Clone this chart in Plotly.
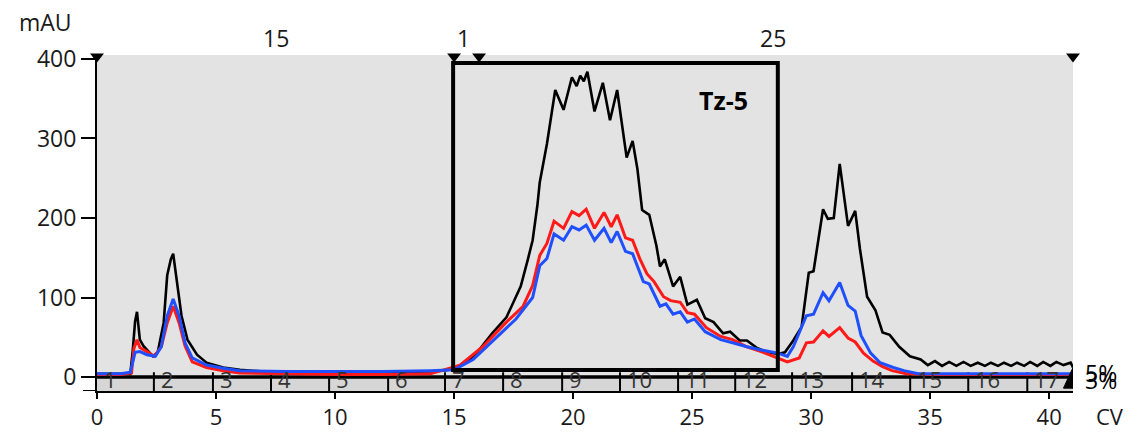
import plotly.graph_objects as go

# ---------------- data ----------------
black_x = [0, 0.5, 1.0, 1.4, 1.5, 1.6, 1.68, 1.8, 1.95, 2.15, 2.35, 2.55, 2.8, 2.95, 3.1, 3.2, 3.35, 3.55, 3.8, 4.2,
           4.6, 5.3, 6.0, 7, 8, 9, 10, 11, 12, 13, 14, 14.5, 15.0, 15.5, 16.0, 16.6, 17.2, 17.45, 17.8, 18.1,
           18.3, 18.5, 18.6, 18.9, 19.25, 19.6, 19.95, 20.15, 20.3, 20.45, 20.6, 20.9, 21.25, 21.55, 21.85, 22.25,
           22.5, 22.7, 22.9, 23.2, 23.5, 23.65, 23.85, 24.2, 24.5, 24.8, 25.2, 25.55, 25.9, 26.3, 26.6, 27.0,
           27.3, 27.7, 28.15, 28.6, 28.9, 29.25, 29.6, 29.9, 30.1, 30.5, 30.7, 30.95, 31.2, 31.55, 31.85, 32.05,
           32.35, 32.7, 33.0, 33.3, 33.7, 34.15, 34.6, 34.9, 35.2, 35.5, 35.8, 36.1, 36.4, 36.7, 37.0, 37.3,
           37.55, 37.85, 38.1, 38.4, 38.65, 38.95, 39.2, 39.5, 39.75, 40.05, 40.3, 40.6, 40.9, 41.0]
black_y = [4, 4, 4, 4, 33, 70, 82, 47, 39, 32, 26, 31, 68, 128, 148, 155, 119, 77, 47, 28,
           18, 12, 9, 7, 6, 6, 6, 6, 6, 6, 7, 8, 10, 18, 32, 55, 75, 91, 114, 148,
           172, 216, 245, 293, 361, 336, 377, 366, 379, 372, 384, 334, 370, 323, 361, 276,
           297, 262, 210, 204, 165, 139, 148, 114, 126, 91, 97, 74, 69, 55, 57, 46,
           46, 37, 31, 29, 31, 46, 63, 131, 133, 211, 199, 200, 268, 190, 209, 161,
           101, 84, 56, 53, 38, 26, 22, 15, 20, 14, 19, 14, 19, 14, 18, 14,
           18, 14, 18, 14, 18, 14, 19, 14, 19, 14, 19, 15, 18, 12]

red_x = [0, 1.0, 1.45, 1.55, 1.68, 1.8, 2.15, 2.4, 2.7, 2.95, 3.2, 3.45, 3.7, 4.0, 4.6, 5.3, 6, 8, 10, 12,
         14, 15.25, 16.2, 17.2, 17.9, 18.3, 18.6, 18.9, 19.2, 19.6, 19.95, 20.25, 20.55, 20.9, 21.3, 21.6,
         21.85, 22.2, 22.5, 22.8, 23.1, 23.4, 23.8, 24.1, 24.5, 24.8, 25.1, 25.6, 26.2, 26.7, 27.3, 27.9,
         28.4, 29.0, 29.5, 29.8, 30.1, 30.5, 30.75, 31.2, 31.55, 31.85, 32.2, 32.6, 33.0, 33.4, 34.0, 35, 41]
red_y = [3, 3, 5, 36, 47, 37, 31, 26, 38, 68, 89, 68, 39, 19, 12, 8, 5, 4, 3, 3,
         4, 15, 38, 69, 89, 115, 153, 168, 196, 187, 208, 203, 211, 187, 207, 189,
         204, 175, 172, 149, 130, 120, 101, 96, 94, 81, 79, 62, 51, 47, 38, 32,
         26, 19, 24, 43, 44, 58, 51, 62, 49, 44, 30, 20, 13, 8, 4, 3, 3]

blue_x = [0, 1.0, 1.4, 1.6, 1.8, 2.1, 2.45, 2.7, 2.95, 3.2, 3.45, 3.7, 4.0, 4.6, 5.3, 6, 8, 10, 12, 14,
          15.0, 15.8, 16.7, 17.6, 18.3, 18.6, 18.9, 19.2, 19.6, 19.95, 20.25, 20.55, 20.9, 21.3, 21.6, 21.85,
          22.2, 22.5, 22.95, 23.2, 23.65, 23.9, 24.2, 24.5, 24.8, 25.1, 25.55, 26.2, 26.7, 27.3, 27.9, 28.6,
          29.0, 29.25, 29.8, 30.1, 30.5, 30.75, 31.2, 31.55, 31.85, 32.1, 32.5, 32.9, 33.45, 33.9, 34.5, 41]
blue_y = [4, 4, 6, 31, 32, 28, 26, 38, 77, 98, 77, 43, 24, 15, 11, 8, 7, 7, 7, 8,
          9, 22, 47, 73, 100, 140, 149, 180, 172, 189, 185, 191, 172, 187, 169, 183,
          158, 155, 120, 117, 89, 92, 79, 82, 69, 73, 57, 47, 43, 38, 34, 30,
          26, 38, 77, 79, 106, 96, 119, 90, 83, 52, 30, 18, 12, 8, 4, 4]

frac_bounds = [0, 2.39, 4.87, 7.31, 9.75, 12.23, 14.62, 17.06, 19.54, 21.97, 24.41, 26.81, 29.2,
               31.72, 34.16, 36.6, 39.08]
frac_labels = [str(i) for i in range(1, 18)]

marker_x = [0, 15, 16.05, 41]
top_labels = [(7.5, "15"), (15.4, "1"), (28.4, "25")]

x_ticks = [0, 5, 10, 15, 20, 25, 30, 35, 40]
y_ticks = [0, 100, 200, 300, 400]

X_MAX = 41
Y_MIN, Y_MAX = -17.6, 405

FONT = "Open Sans"
TXT = "#1a1a1a"

fig = go.Figure()

fig.add_trace(go.Scatter(x=black_x, y=black_y, mode="lines", line=dict(color="black", width=2.6), showlegend=False))
fig.add_trace(go.Scatter(x=red_x, y=red_y, mode="lines", line=dict(color="#ff1a1a", width=3), showlegend=False))
fig.add_trace(go.Scatter(x=blue_x, y=blue_y, mode="lines", line=dict(color="#1f4fff", width=3), showlegend=False))
fig.add_trace(go.Scatter(x=marker_x, y=[403] * len(marker_x), mode="markers", cliponaxis=False,
                         marker=dict(symbol="triangle-down", size=12, color="black"), showlegend=False))

shapes = []
# fraction strip
shapes.append(dict(type="rect", xref="x", yref="y", x0=0, x1=X_MAX, y0=Y_MIN, y1=0,
                   fillcolor="#d6d6d6", line=dict(width=0), layer="below"))
for b in frac_bounds[1:]:
    shapes.append(dict(type="line", xref="x", yref="y", x0=b, x1=b, y0=Y_MIN, y1=6,
                       line=dict(color="black", width=2), layer="below"))
shapes.append(dict(type="line", xref="x", yref="y", x0=0, x1=X_MAX, y0=0, y1=0,
                   line=dict(color="black", width=3.5), layer="below"))
# extension of bottom axis line to the left
shapes.append(dict(type="line", xref="paper", yref="y", x0=-14 / 976, x1=0, y0=Y_MIN, y1=Y_MIN,
                   line=dict(color="black", width=2)))
# end marker
shapes.append(dict(type="path", xref="x", yref="y", path="M 40.6,-14 L 41,-14 L 41,12 Z",
                   fillcolor="black", line=dict(color="black", width=1)))
# highlight box
shapes.append(dict(type="rect", xref="x", yref="y", x0=14.96, x1=28.6, y0=8.8, y1=395,
                   line=dict(color="black", width=4), fillcolor="rgba(0,0,0,0)", layer="above"))

annotations = []
for b, lab in zip(frac_bounds, frac_labels):
    annotations.append(dict(x=b + 0.2, y=-3, xref="x", yref="y", text=lab, showarrow=False,
                            xanchor="left", yanchor="middle", font=dict(family=FONT, size=22, color="#333333")))
for x, t in top_labels:
    annotations.append(dict(x=x, y=1.05, xref="x", yref="paper", text=t, showarrow=False,
                            xanchor="center", yanchor="middle", font=dict(family=FONT, size=23, color=TXT)))
annotations.append(dict(x=26.3, y=348, xref="x", yref="y", text="<b>Tz-5</b>", showarrow=False,
                        font=dict(family=FONT, size=25, color="black")))
annotations.append(dict(x=-0.053, y=1.098, xref="paper", yref="paper", text="mAU", showarrow=False,
                        xanchor="center", yanchor="middle", font=dict(family=FONT, size=23, color=TXT)))
annotations.append(dict(x=1.038, y=-0.075, xref="paper", yref="paper", text="CV", showarrow=False,
                        xanchor="center", yanchor="middle", font=dict(family=FONT, size=22, color=TXT)))
annotations.append(dict(x=1.0102, y=-4, xref="paper", yref="y", text="3%", showarrow=False,
                        xanchor="left", yanchor="middle", font=dict(family=FONT, size=23, color="black")))
annotations.append(dict(x=1.0102, y=5, xref="paper", yref="y", text="5%", showarrow=False,
                        xanchor="left", yanchor="middle", font=dict(family=FONT, size=23, color="black")))

fig.update_layout(
    width=1133, height=432,
    margin=dict(l=97, r=60, t=55, b=41),
    paper_bgcolor="white",
    plot_bgcolor="#e3e3e3",
    shapes=shapes,
    annotations=annotations,
    xaxis=dict(range=[0, X_MAX], tickvals=x_ticks, ticks="outside", ticklen=6, tickwidth=2,
               tickcolor="black", showline=True, linecolor="black", linewidth=2, showgrid=False,
               zeroline=False, automargin=False, tickfont=dict(family=FONT, size=22, color=TXT)),
    yaxis=dict(range=[Y_MIN, Y_MAX], tickvals=y_ticks, ticks="outside", ticklen=14, tickwidth=2,
               tickcolor="black", showline=True, linecolor="black", linewidth=2, showgrid=False,
               zeroline=False, automargin=False, tickfont=dict(family=FONT, size=23, color=TXT)),
)

fig.write_html("out.html")
